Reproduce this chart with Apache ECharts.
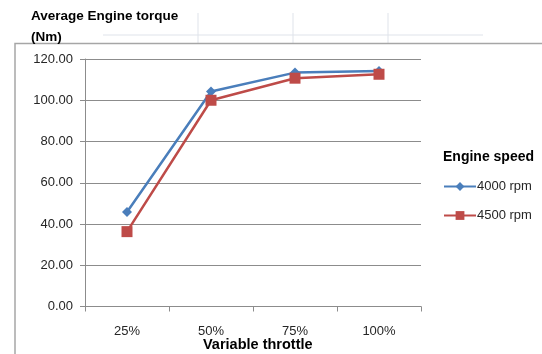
<!DOCTYPE html>
<html>
<head>
<meta charset="utf-8">
<script src="https://cdn.jsdelivr.net/npm/echarts@6/dist/echarts.min.js"></script>
<style>
  html, body { margin: 0; padding: 0; background: #fff; }
  #chart { width: 542px; height: 354px; }
</style>
</head>
<body>
<div id="chart"></div>
<script>
// Throttle positions on the x axis
const throttle = ['25%', '50%', '75%', '100%'];
// Average engine torque (Nm) for each engine speed
const rpm4000 = [45.8, 104.2, 113.4, 114.2];
const rpm4500 = [36.3, 100.0, 110.7, 112.6];
const seriesNames = ['4000 rpm', '4500 rpm'];

const FONT = '"Liberation Sans", Arial, sans-serif';
const TEXT = '#262626';
const GRID = '#8c8c8c';

const chart = echarts.init(document.getElementById('chart'), null, { renderer: 'canvas' });

chart.setOption({
  animation: false,
  backgroundColor: '#ffffff',
  textStyle: { fontFamily: FONT },
  graphic: [
    // faint lines above the chart frame
    { type: 'line', shape: { x1: 103, y1: 35, x2: 483, y2: 35 }, style: { stroke: '#dfe3ea', lineWidth: 1 }, z: -1 },
    { type: 'line', shape: { x1: 198, y1: 13, x2: 198, y2: 43 }, style: { stroke: '#dfe3ea', lineWidth: 1 }, z: -1 },
    { type: 'line', shape: { x1: 293, y1: 13, x2: 293, y2: 43 }, style: { stroke: '#dfe3ea', lineWidth: 1 }, z: -1 },
    { type: 'line', shape: { x1: 388, y1: 13, x2: 388, y2: 43 }, style: { stroke: '#dfe3ea', lineWidth: 1 }, z: -1 },
    // chart frame (top and left edges)
    { type: 'polyline', shape: { points: [[15, 354], [15, 43.5], [542, 43.5]] }, style: { stroke: '#a6a6a6', lineWidth: 1.5, fill: null } },
    // axis titles
    { type: 'text', left: 31, top: 6, style: { text: 'Average Engine torque\n(Nm)', font: 'bold 13.5px ' + FONT, fill: '#000', lineHeight: 21 } },
    { type: 'text', left: 443, top: 150, style: { text: 'Engine speed', font: 'bold 14px ' + FONT, fill: '#000' } },
    { type: 'text', left: 203, top: 337, style: { text: 'Variable throttle', font: 'bold 14.5px ' + FONT, fill: '#000' } }
  ],
  legend: {
    data: seriesNames,
    orient: 'vertical',
    left: 443,
    top: 180,
    padding: 0,
    itemGap: 16,
    itemWidth: 32,
    itemHeight: 11,
    textStyle: { fontFamily: FONT, fontSize: 13, color: TEXT, padding: [0, 0, 0, -4] }
  },
  grid: { left: 85, right: 121, top: 59, bottom: 47.5, containLabel: false },
  xAxis: {
    type: 'category',
    data: throttle,
    boundaryGap: true,
    axisLine: { lineStyle: { color: GRID, width: 1 } },
    axisTick: { show: true, length: 5, lineStyle: { color: GRID } },
    axisLabel: { fontFamily: FONT, fontSize: 13, color: TEXT, margin: 18 }
  },
  yAxis: {
    type: 'value',
    min: 0,
    max: 120,
    interval: 20,
    axisLine: { show: true, lineStyle: { color: GRID, width: 1 } },
    axisTick: { show: true, length: 5, lineStyle: { color: GRID } },
    axisLabel: {
      fontFamily: FONT, fontSize: 13, color: TEXT, margin: 12,
      formatter: v => v.toFixed(2)
    },
    splitLine: { show: true, lineStyle: { color: GRID, width: 1 } }
  },
  series: [
    {
      name: seriesNames[0],
      type: 'line',
      data: rpm4000,
      symbol: 'diamond',
      symbolSize: 10,
      lineStyle: { color: '#4a7ebb', width: 2.5 },
      itemStyle: { color: '#4a7ebb' },
      z: 3
    },
    {
      name: seriesNames[1],
      type: 'line',
      data: rpm4500,
      symbol: 'rect',
      symbolSize: 11,
      lineStyle: { color: '#be4b48', width: 2.5 },
      itemStyle: { color: '#be4b48' },
      z: 4
    }
  ]
});
</script>
</body>
</html>
